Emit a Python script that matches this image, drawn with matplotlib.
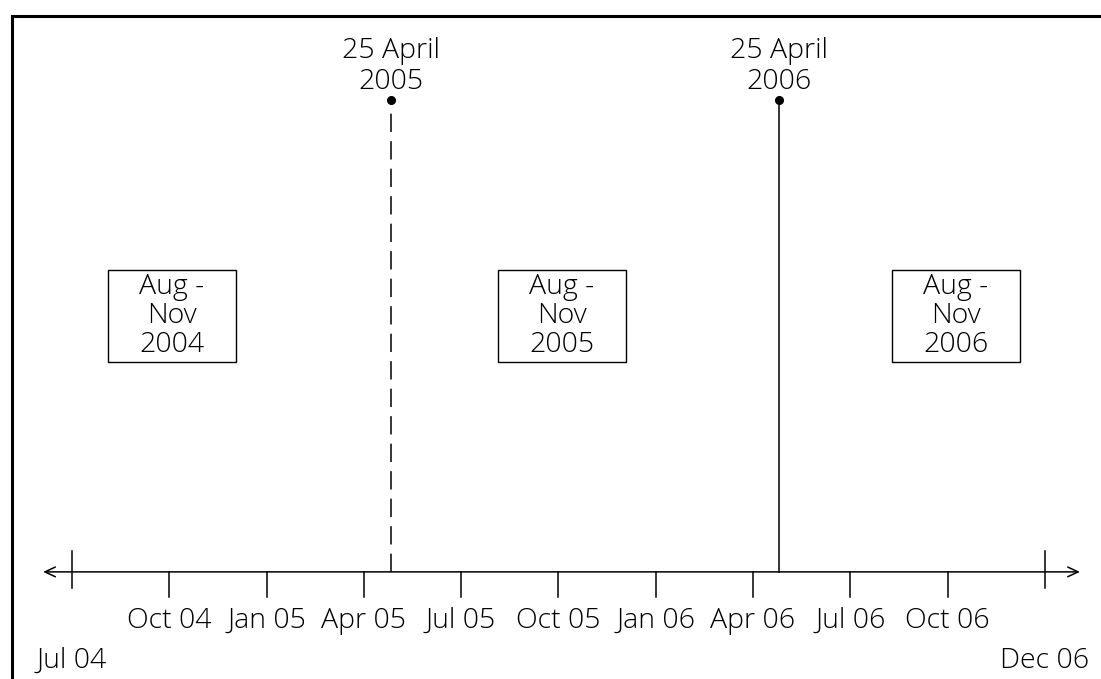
import matplotlib
matplotlib.use("Agg")
import matplotlib.pyplot as plt
from matplotlib.lines import Line2D
from matplotlib.patches import Rectangle

plt.rcParams['font.family'] = ['Open Sans', 'DejaVu Sans']
plt.rcParams['font.weight'] = 'light'

# timeline in months counted from Jul 2004
tick_pos = [0, 3, 6, 9, 12, 15, 18, 21, 24, 27, 30]
tick_labels = ['Jul 04', 'Oct 04', 'Jan 05', 'Apr 05', 'Jul 05', 'Oct 05',
               'Jan 06', 'Apr 06', 'Jul 06', 'Oct 06', 'Dec 06']

event_pos = [9.85, 21.8]
event_labels = ['25 April\n2005', '25 April\n2006']
event_styles = ['--', '-']

period_pos = [3.08, 15.11, 27.26]
period_labels = ['Aug -\nNov\n2004', 'Aug -\nNov\n2005', 'Aug -\nNov\n2006']


fig = plt.figure(figsize=(11.01, 6.79), dpi=100)
ax = fig.add_axes([0, 0, 1, 1])
ax.set_xlim(-2.22, 31.73)
ax.set_ylim(-0.227, 1.212)
ax.axis('off')

# frame (left and top only)
fig.add_artist(Line2D([0.011, 0.011], [0, 1 - 16 / 679], color='black', lw=2.2,
                      transform=fig.transFigure, solid_capstyle='projecting'))
fig.add_artist(Line2D([0.011, 1], [1 - 16 / 679, 1 - 16 / 679], color='black', lw=2.2,
                      transform=fig.transFigure, solid_capstyle='projecting'))

# main axis with arrows
ax.annotate('', xy=(31.08, 0), xytext=(-0.89, 0),
            arrowprops=dict(arrowstyle='<->,head_length=0.75,head_width=0.35',
                            mutation_scale=10, lw=1.1, color='black',
                            shrinkA=0, shrinkB=0))

# ticks and tick labels
for i, (p, lab) in enumerate(zip(tick_pos, tick_labels)):
    if i == 0 or i == len(tick_pos) - 1:
        ax.plot([p, p], [0.044, -0.034], color='black', lw=1.1)
        ax.text(p, -0.188, lab, ha='center', va='center', fontsize=20.5)
    else:
        ax.plot([p, p], [0, -0.053], color='black', lw=1.1)
        ax.text(p, -0.104, lab, ha='center', va='center', fontsize=20.5)

# events
for p, lab, ls in zip(event_pos, event_labels, event_styles):
    ax.plot([p, p], [0, 1.0], color='black', lw=1.1, linestyle=ls,
            dashes=(12, 6) if ls == '--' else (None, None))
    ax.plot(p, 1.0, 'o', color='black', markersize=5.5)
    ax.text(p, 1.008, lab, ha='center', va='bottom', fontsize=20.5, linespacing=1.15)

# periods
for p, lab in zip(period_pos, period_labels):
    w, h = 3.95, 0.195
    ax.add_patch(Rectangle((p - w / 2, 0.542 - h / 2), w, h, fill=False,
                           edgecolor='black', lw=1.0))
    ax.text(p, 0.542, lab, ha='center', va='center', fontsize=20.5,
            linespacing=1.05)

fig.savefig('out.png', dpi=100)
